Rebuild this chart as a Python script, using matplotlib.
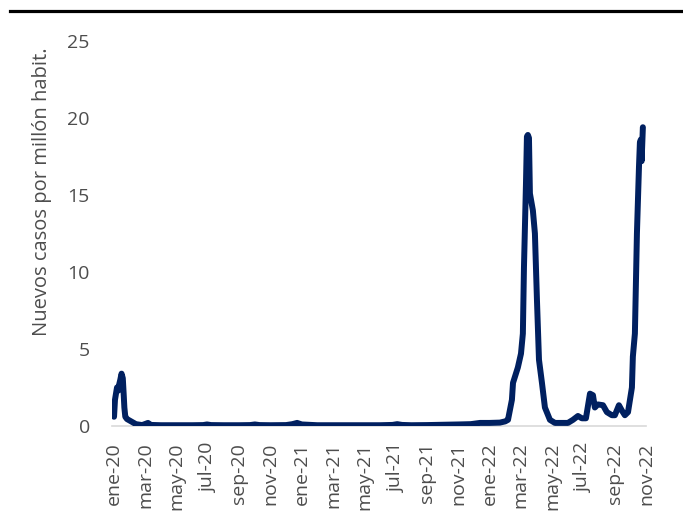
import numpy as np
import matplotlib.pyplot as plt
from matplotlib.lines import Line2D

# meses desde ene-20 (posicion fraccional) y casos por millon
meses = [0.0, 0.06, 0.19, 0.27, 0.33, 0.40, 0.48, 0.56, 0.62, 0.66, 0.72, 0.83, 1.09, 1.4,
         1.8, 2.04, 2.17, 2.36, 3.0, 4.0, 5.0, 5.7, 5.94, 6.2, 7.0, 8.0, 8.7, 9.0, 9.3, 10.0,
         11.0, 11.4, 11.7, 12.0, 13.0, 14.0, 15.0, 16.0, 17.0, 17.8, 18.1, 18.4, 19.0,
         20.0, 21.0, 22.0, 22.8, 23.39, 24.0, 24.66, 25.0, 25.18, 25.43, 25.50, 25.81, 26.01,
         26.13, 26.20, 26.33, 26.39, 26.45, 26.52, 26.58, 26.77, 26.90, 27.03, 27.16, 27.35,
         27.54, 27.86, 28.18, 28.69, 29.01, 29.33, 29.65, 29.90, 30.16, 30.42, 30.61, 30.73,
         30.92, 31.25, 31.50, 31.82, 32.01, 32.27, 32.46, 32.65, 32.85, 33.10, 33.16, 33.29,
         33.42, 33.55, 33.61, 33.67, 33.72, 33.80]
casos = [0.6, 1.7, 2.5, 2.3, 2.7, 3.0, 3.4, 3.1, 2.0, 1.2, 0.6, 0.45, 0.3, 0.12,
         0.06, 0.15, 0.2, 0.07, 0.05, 0.05, 0.05, 0.06, 0.1, 0.06, 0.05, 0.05, 0.06, 0.1, 0.06, 0.05,
         0.06, 0.12, 0.2, 0.1, 0.05, 0.05, 0.05, 0.05, 0.05, 0.07, 0.12, 0.07, 0.05,
         0.06, 0.08, 0.1, 0.12, 0.2, 0.2, 0.22, 0.3, 0.4, 1.7, 2.8, 3.8, 4.7,
         6.0, 10.3, 15.8, 18.8, 18.9, 18.7, 15.1, 14.0, 12.5, 8.2, 4.3, 2.8,
         1.2, 0.4, 0.2, 0.2, 0.2, 0.4, 0.65, 0.5, 0.5, 2.1, 2.0, 1.2,
         1.4, 1.35, 0.9, 0.7, 0.7, 1.35, 1.0, 0.7, 0.9, 2.5, 4.5, 6.0,
         12.5, 16.8, 18.4, 18.6, 17.2, 19.4]

etiquetas = ["ene-20", "mar-20", "may-20", "jul-20", "sep-20", "nov-20",
             "ene-21", "mar-21", "may-21", "jul-21", "sep-21", "nov-21",
             "ene-22", "mar-22", "may-22", "jul-22", "sep-22", "nov-22"]
pos_etiquetas = np.arange(0, 36, 2)

gris = "#4D4D4D"
plt.rcParams["font.family"] = ["Open Sans", "DejaVu Sans"]

fig = plt.figure(figsize=(6.83, 5.15), dpi=100)
ax = fig.add_axes([112 / 683, 89 / 515, 534 / 683, 385 / 515])

ax.plot(meses, casos, color="#002060", lw=4.3, solid_capstyle="round",
        solid_joinstyle="round")

ax.set_xlim(-0.13, 34.0)
ax.set_ylim(0, 25)
ax.set_yticks([0, 5, 10, 15, 20, 25])
ax.set_xticks(pos_etiquetas)
ax.set_xticklabels(etiquetas, rotation=90)
ax.tick_params(axis="x", length=0, pad=12, labelsize=14, labelcolor=gris)
ax.tick_params(axis="y", length=0, pad=16, labelsize=14, labelcolor=gris)

for s in ["top", "right", "left"]:
    ax.spines[s].set_visible(False)
ax.spines["bottom"].set_color("#D9D9D9")
ax.spines["bottom"].set_linewidth(1.2)
ax.spines["bottom"].set_zorder(0)

fig.text(42 / 683, (515 - 192) / 515, "Nuevos casos por millón habit.",
         rotation=90, ha="center", va="center", fontsize=14.5, color=gris)

# linea negra superior
fig.add_artist(Line2D([10 / 683, 1.0], [1 - 10.5 / 515, 1 - 10.5 / 515],
                      color="black", lw=2.3))

fig.savefig("out.png", dpi=100)
